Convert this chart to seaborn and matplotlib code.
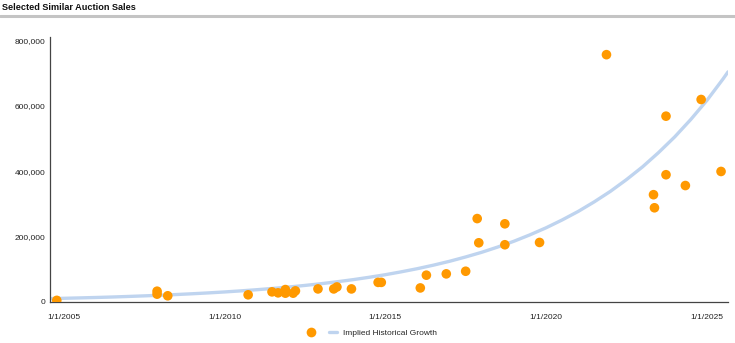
import matplotlib
matplotlib.use("Agg")
import matplotlib.pyplot as plt
import matplotlib.dates as mdates
from matplotlib.lines import Line2D
import seaborn as sns
import pandas as pd

# ---- data ----
sale_dates = ["2004-10-15", "2007-11-28", "2007-11-28", "2008-03-28", "2010-09-27",
              "2011-06-25", "2011-09-02", "2011-11-24", "2011-11-24", "2012-02-20",
              "2012-03-17", "2012-11-28", "2013-05-26", "2013-07-01", "2013-12-13",
              "2014-10-12", "2014-11-17", "2016-02-03", "2016-04-12", "2016-11-24",
              "2017-07-02", "2017-11-10", "2017-11-28", "2018-09-20", "2018-09-20",
              "2019-10-19", "2021-11-17", "2023-05-05", "2023-05-16", "2023-09-24",
              "2023-09-24", "2024-05-01", "2024-10-27", "2025-06-10"]
sale_prices = [5000, 33000, 24000, 19000, 22000,
               31000, 28000, 38000, 27000, 27000,
               34000, 40000, 40000, 46000, 40000,
               60000, 60000, 43000, 82000, 86000,
               94000, 255000, 181000, 239000, 175000,
               182000, 756000, 328000, 288000, 568000,
               389000, 356000, 619000, 399000]

growth_dates = ["2004-07-30", "2005-01-01", "2005-07-01", "2006-01-01", "2006-07-01",
                "2007-01-01", "2007-07-01", "2008-01-01", "2008-07-01", "2009-01-01",
                "2009-07-01", "2010-01-01", "2010-07-01", "2011-01-01", "2011-07-01",
                "2012-01-01", "2012-07-01", "2013-01-01", "2013-07-01", "2014-01-01",
                "2014-07-01", "2015-01-01", "2015-07-01", "2016-01-01", "2016-07-01",
                "2017-01-01", "2017-07-01", "2018-01-01", "2018-07-01", "2019-01-01",
                "2019-07-01", "2020-01-01", "2020-07-01", "2021-01-01", "2021-07-01",
                "2022-01-01", "2022-07-01", "2023-01-01", "2023-07-01", "2024-01-01",
                "2024-07-01", "2025-01-01", "2025-07-01", "2025-08-28"]
growth_values = [10400, 11300, 12500, 13800, 15200,
                 16900, 18700, 20600, 22800, 25200,
                 27800, 30700, 33900, 37500, 41400,
                 45800, 50600, 55900, 61800, 68300,
                 75500, 83400, 92200, 101900, 112600,
                 124500, 137600, 152000, 168000, 185700,
                 205200, 226800, 250700, 277000, 306100,
                 338300, 373900, 413200, 456700, 504700,
                 557800, 616400, 681200, 703400]

tick_years = [2005, 2010, 2015, 2020, 2025]
y_ticks = [0, 200000, 400000, 600000, 800000]

title = "Selected Similar Auction Sales"
line_label = "Implied Historical Growth"

# ---- frames ----
sales = pd.DataFrame({"date": pd.to_datetime(sale_dates), "price": sale_prices})
growth = pd.DataFrame({"date": pd.to_datetime(growth_dates), "value": growth_values})

sns.set_style("white")
plt.rcParams["font.family"] = ["Liberation Sans", "DejaVu Sans"]

fig = plt.figure(figsize=(7.35, 3.43), dpi=100)
ax = fig.add_axes([50 / 735, 1 - 302 / 343, (728 - 50) / 735, (302 - 37) / 343])

sns.lineplot(data=growth, x="date", y="value", ax=ax, color="#bfd4ef", linewidth=2.4,
             label=line_label, zorder=2)
sns.scatterplot(data=sales, x="date", y="price", ax=ax, color="#ff9900", s=48,
                edgecolor="none", label="_nolegend_", zorder=3)

ax.set_xlim(pd.Timestamp("2004-07-30"), pd.Timestamp("2025-08-28"))
ax.set_ylim(0, 810000)

ax.set_xticks([mdates.date2num(pd.Timestamp(f"{y}-01-01")) for y in tick_years])
ax.set_xticklabels([f"1/1/{y}" for y in tick_years])
ax.set_yticks(y_ticks)
ax.set_yticklabels([f"{v:,}" for v in y_ticks])
ax.set_xlabel("")
ax.set_ylabel("")

for side in ["top", "right"]:
    ax.spines[side].set_visible(False)
for side in ["left", "bottom"]:
    ax.spines[side].set_color("#444444")
    ax.spines[side].set_linewidth(0.9)

ax.tick_params(axis="x", direction="inout", length=7, width=0.8, color="#444444",
               labelsize=6, pad=5, labelcolor="#222222")
ax.tick_params(axis="y", length=0, labelsize=6, pad=3, labelcolor="#222222")
ax.grid(False)

# legend: orange dot + blue line, label on the line only
h_dot = Line2D([], [], marker="o", linestyle="none", color="#ff9900", markersize=7,
               markeredgewidth=0)
h_line = Line2D([], [], color="#bfd4ef", linewidth=2.4)
ax.legend([h_dot, h_line], ["", line_label], ncol=2, frameon=False, fontsize=6,
          loc="center", bbox_to_anchor=(372 / 735, 1 - 333 / 343),
          bbox_transform=fig.transFigure, handlelength=1.0, handletextpad=0.7,
          columnspacing=1.0)

# title and separator line
fig.text(2 / 735, 1 - 8 / 343, title, fontsize=6.6, fontweight="bold",
         va="center", ha="left", color="#111111")
fig.add_artist(Line2D([0, 1], [1 - 16 / 343, 1 - 16 / 343], transform=fig.transFigure,
                      color="#c4c4c4", linewidth=2.2))

fig.savefig("out.png", dpi=100)
